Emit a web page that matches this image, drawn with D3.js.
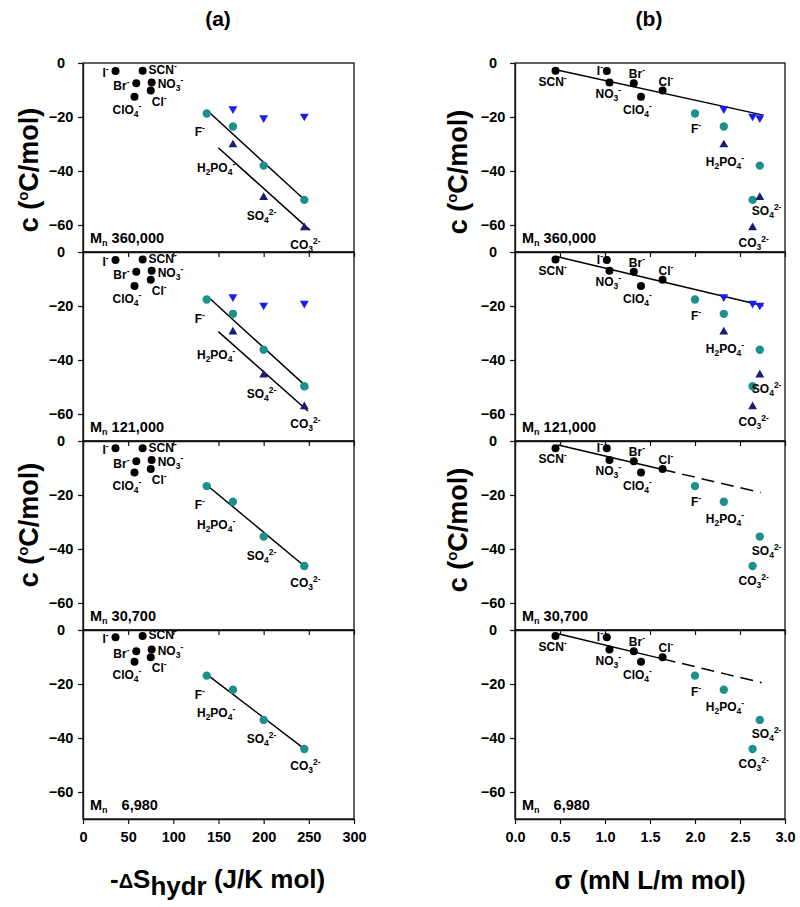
<!DOCTYPE html>
<html><head><meta charset="utf-8">
<script src="https://cdnjs.cloudflare.com/ajax/libs/d3/7.8.5/d3.min.js"></script>
<style>
body{margin:0;background:#fff}
svg{display:block}
text{font-family:"Liberation Sans",Arial,Helvetica,sans-serif;font-weight:bold;fill:#000}
</style>
</head><body><svg id="c" width="800" height="907"></svg>
<script>
// ---------------- DATA ----------------
const ions = ["I","SCN","Br","NO3","Cl","ClO4","F","H2PO4","SO4","CO3"];
const blackIons = ["I","SCN","Br","NO3","Cl","ClO4"];
const tealIons = ["F","H2PO4","SO4","CO3"];
const triIons = ["H2PO4","SO4","CO3"];
// -ΔS_hydr (J/K mol), same order as ions
const entropy = [36,66,59,76,75,57,137,166,200,245];
// σ (mN L/m mol), same order as ions
const sigma = [1.02,0.45,1.32,1.05,1.64,1.40,2.00,2.32,2.72,2.64];
const mnLabels = ["360,000","121,000","30,700","6,980"];
// c (°C/mol) for each molecular weight panel
const cBlack = [
  [-3.0,-2.9,-7.5,-7.2,-10.2,-12.5],
  [-3.0,-2.8,-7.3,-6.9,-10.3,-12.6],
  [-2.7,-2.7,-7.5,-7.0,-10.4,-11.7],
  [-2.7,-2.2,-7.9,-7.2,-10.1,-11.8]
];
const cTeal = [
  [-18.7,-23.5,-38.0,-50.7],
  [-17.6,-22.9,-36.2,-49.7],
  [-16.7,-22.5,-35.4,-46.3],
  [-16.9,-22.1,-33.3,-44.1]
];
const cDown = [[-17.0,-20.3,-19.7],[-16.6,-19.7,-19.0],null,null];
const cUp = [[-30.3,-49.8,-61.0],[-29.6,-45.5,-57.3],null,null];
// fitted lines [x1,y1,x2,y2]
const fitATeal = [[136.9,-17.4,247.6,-51.4],[138,-16.5,249.4,-50.5],[137,-16.3,245,-46.3],[137,-16.4,245.8,-44.2]];
const fitAUp = [[149.8,-31.4,251.3,-61.9],[149.8,-29.5,249,-58.9],null,null];
const fitB = [[0.43,-2.3,2.76,-19.3],[0.46,-1.7,2.76,-19.9],[0.48,-1.5,2.73,-19.1],[0.49,-1.5,2.74,-19.5]];
const fitBSolidEnd = [null,null,1.64,1.64];
const xTicksA = [0,50,100,150,200,250,300];
const xTicksB = [0,0.5,1,1.5,2,2.5,3];
const yTicks = [0,-20,-40,-60];

// ---------------- STYLE / LAYOUT ----------------
const svg = d3.select("#c");
const COL = {teal:"#1d8f8c", down:"#1c1cf0", up:"#1a1a78", black:"#000"};
const panelTops = [63,252,441,630];
const PH = 189;
const columns = [
  {key:"a", x0:83, x1:354, domain:[0,300], ticks:xTicksA, fmt:d3.format("d"), xs:entropy,
   title:"(a)", titleX:218},
  {key:"b", x0:515, x1:785, domain:[0,3], ticks:xTicksB, fmt:d3.format(".1f"), xs:sigma,
   title:"(b)", titleX:649}
];
// label offsets (px) from the lowest marker of each ion: [dx, dy]
const labelOff = {
  a:{I:[-13,6],SCN:[6,3.5],Br:[-23,7],NO3:[6,6],Cl:[1,15],ClO4:[-22,17],F:[-12,23],H2PO4:[-36,27],SO4:[-17,23],CO3:[-14,21]},
  b:{I:[-10,4],SCN:[-17,15],Br:[-5,-5],NO3:[-14,15.5],Cl:[-4,-5],ClO4:[-18,17],F:[-4,20],H2PO4:[-18,21],SO4:[-8,18],CO3:[-14,19]}
};
const labelParts = {
  I:[["I",0],["-",1]], SCN:[["SCN",0],["-",1]], Br:[["Br",0],["-",1]],
  NO3:[["NO",0],["3",-1],["-",1]], Cl:[["Cl",0],["-",1]],
  ClO4:[["ClO",0],["4",-1],["-",1]], F:[["F",0],["-",1]],
  H2PO4:[["H",0],["2",-1],["PO",0],["4",-1],["-",1]],
  SO4:[["SO",0],["4",-1],["2-",1]], CO3:[["CO",0],["3",-1],["2-",1]]
};
function richText(g, parts, x, y, size, small, subDy, supDy){
  const t = g.append("text").attr("x",x).attr("y",y).style("font-size",size+"px");
  let cur = 0;
  parts.forEach(([s,k])=>{
    const target = k===0?0:(k<0?subDy:supDy);
    t.append("tspan").text(s).attr("dy", target-cur)
      .style("font-size",(k===0?size:small)+"px");
    cur = target;
  });
  return t;
}

columns.forEach(col=>{
  const x = d3.scaleLinear().domain(col.domain).range([col.x0,col.x1]);
  svg.append("text").attr("x",col.titleX).attr("y",26).attr("text-anchor","middle")
    .style("font-size","21px").text(col.title);

  panelTops.forEach((top,p)=>{
    const y = d3.scaleLinear().domain([-70,0]).range([top+PH,top]);
    const g = svg.append("g");
    g.append("rect").attr("x",col.x0).attr("y",top).attr("width",col.x1-col.x0).attr("height",PH)
      .attr("fill","none").attr("stroke","#111").attr("stroke-width",1.3);
    const ya = g.append("g").attr("transform",`translate(${col.x0},0)`)
      .call(d3.axisLeft(y).tickValues(yTicks).tickSize(5).tickSizeOuter(0).tickFormat(d3.format("d")));
    ya.select(".domain").attr("stroke","#111").attr("stroke-width",1.3);
    ya.selectAll(".tick line").attr("stroke","#111").attr("stroke-width",1.2);
    ya.selectAll(".tick text").attr("x",-22).attr("text-anchor","middle")
      .style("font-family",'"Liberation Sans",Arial,sans-serif').style("font-weight","bold").style("font-size","14.5px");
    const last = p===panelTops.length-1;
    const xa = g.append("g").attr("transform",`translate(0,${top+PH})`)
      .call(d3.axisBottom(x).tickValues(col.ticks).tickSize(5).tickSizeOuter(0).tickPadding(8)
        .tickFormat(last?col.fmt:()=>""));
    xa.select(".domain").attr("stroke","#111").attr("stroke-width",1.3);
    xa.selectAll(".tick line").attr("stroke","#111").attr("stroke-width",1.2);
    if(!last) xa.selectAll(".tick text").remove();
    xa.selectAll(".tick text").style("font-family",'"Liberation Sans",Arial,sans-serif')
      .style("font-weight","bold").style("font-size","14.5px");

    const line = (f, dashed)=> g.append("line")
      .attr("x1",x(f[0])).attr("y1",y(f[1])).attr("x2",x(f[2])).attr("y2",y(f[3]))
      .attr("stroke","#000").attr("stroke-width",1.5).attr("stroke-dasharray",dashed?"13,7":null);
    if(col.key==="a"){
      line(fitATeal[p]);
      if(fitAUp[p]) line(fitAUp[p]);
    } else {
      const f = fitB[p], se = fitBSolidEnd[p];
      if(se===null) line(f);
      else {
        const yAt = v=> f[1]+(f[3]-f[1])*(v-f[0])/(f[2]-f[0]);
        line([f[0],f[1],se,yAt(se)]);
        line([se,yAt(se),f[2],f[3]],true);
      }
    }

    const xv = k=> col.xs[ions.indexOf(k)];
    const lowest = {};
    const note = (k,v)=>{ lowest[k] = lowest[k]===undefined?v:Math.min(lowest[k],v); };

    blackIons.forEach((k,i)=>{
      g.append("circle").attr("cx",x(xv(k))).attr("cy",y(cBlack[p][i])).attr("r",4).attr("fill",COL.black);
      note(k,cBlack[p][i]);
    });
    tealIons.forEach((k,i)=>{
      g.append("circle").attr("cx",x(xv(k))).attr("cy",y(cTeal[p][i])).attr("r",4.2).attr("fill",COL.teal);
      note(k,cTeal[p][i]);
    });
    const tri = d3.symbol().type(d3.symbolTriangle).size(34);
    if(cDown[p]) triIons.forEach((k,i)=>{
      g.append("path").attr("d",tri()).attr("fill",COL.down)
        .attr("transform",`translate(${x(xv(k))},${y(cDown[p][i])}) rotate(180)`);
      note(k,cDown[p][i]);
    });
    if(cUp[p]) triIons.forEach((k,i)=>{
      g.append("path").attr("d",tri()).attr("fill",COL.up)
        .attr("transform",`translate(${x(xv(k))},${y(cUp[p][i])})`);
      note(k,cUp[p][i]);
    });

    ions.forEach(k=>{
      const o = labelOff[col.key][k];
      richText(g, labelParts[k], x(xv(k))+o[0], y(lowest[k])+o[1], 12, 8.5, 3, -5);
    });

    const mt = g.append("text").attr("x",col.x0+7).attr("y",top+180).style("font-size","14.5px");
    mt.append("tspan").text("M");
    mt.append("tspan").text("n").style("font-size","9px").attr("dy",3);
    mt.append("tspan").text(mnLabels[p]).attr("dy",-3).attr("dx", last?14:4);
  });
});

const xt1 = svg.append("text").attr("x",110).attr("y",888).style("font-size","26px");
xt1.append("tspan").text("-");
xt1.append("tspan").text("Δ").style("font-size","20px");
xt1.append("tspan").text("S");
xt1.append("tspan").text("hydr").attr("dy",7);
xt1.append("tspan").text(" (J/K mol)").attr("dy",-7);
svg.append("text").attr("x",650).attr("y",889).attr("text-anchor","middle").style("font-size","26px")
  .text("σ (mN L/m mol)");

function yTitle(cx, cy){
  const t = svg.append("text").attr("transform",`translate(${cx},${cy}) rotate(-90)`)
    .attr("text-anchor","middle").style("font-size","27px");
  t.append("tspan").text("c (");
  t.append("tspan").text("o").style("font-size","15px").attr("dy",-10);
  t.append("tspan").text("C/mol)").attr("dy",10);
}
yTitle(38,170); yTitle(38,525);
yTitle(467,172); yTitle(467,530);
</script>
</body></html>
